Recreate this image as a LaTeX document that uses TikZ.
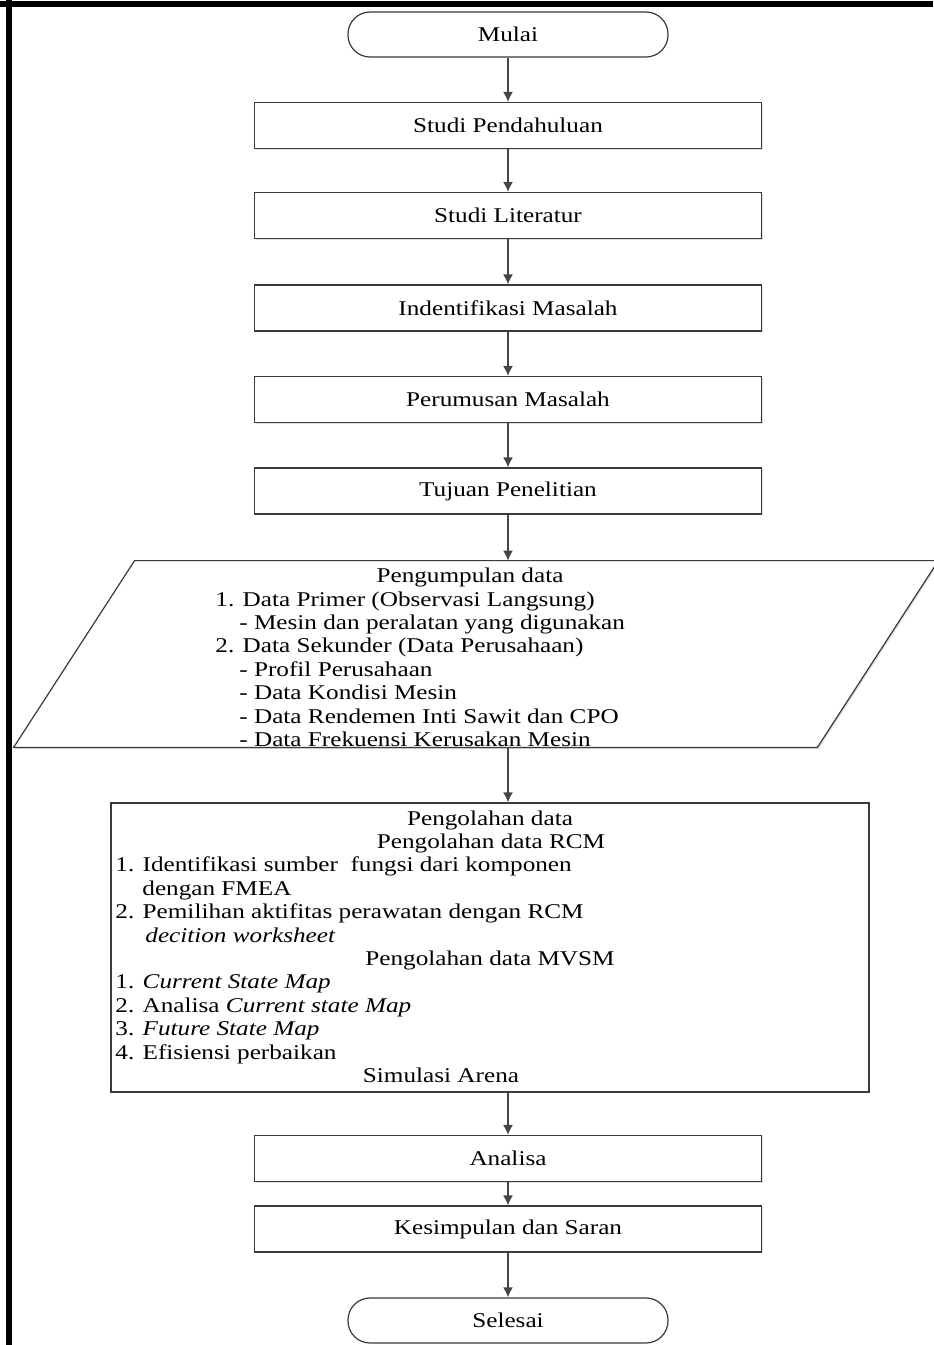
\documentclass[tikz,border=0pt]{standalone}
\usepackage{fontspec}
\setmainfont{Liberation Serif}[FakeStretch=1.2]
\usetikzlibrary{arrows.meta,shadows,calc}
\definecolor{linegray}{HTML}{3A3A3A}
\definecolor{arrowgray}{HTML}{454545}
\tikzset{
  boxshadow/.style={drop shadow={shadow xshift=0.7pt, shadow yshift=-0.7pt, opacity=0.25}},
  stepbox/.style={draw=linegray, line width=0.6pt, fill=white, boxshadow,
    minimum width=253.5pt, minimum height=23pt},
  terminal/.style={draw=linegray, line width=0.6pt, fill=white, rounded corners=11pt,
    minimum width=160pt, minimum height=22.5pt},
  flow/.style={draw=arrowgray, line width=0.8pt, -{Latex[length=5pt,width=5pt]}},
  textline/.style={inner sep=0pt},
}

\begin{document}
\begin{tikzpicture}[x=0.5pt, y=-0.5pt, font=\fontsize{10.5}{12.6}\selectfont]
        \useasboundingbox (0,0) rectangle (933,1345);
        %frame
        \fill (6,0) rectangle (12,1345);
        \fill (0,1) rectangle (933,7);
        %nodes
        \node[terminal] (mulai) at (508,34.5) {Mulai};
        \node[stepbox] (pendahuluan) at (508,125.5) {Studi Pendahuluan};
        \node[stepbox] (literatur) at (508,215.5) {Studi Literatur};
        \node[stepbox] (identifikasi) at (508,308) {Indentifikasi Masalah};
        \node[stepbox] (perumusan) at (508,399.5) {Perumusan Masalah};
        \node[stepbox] (tujuan) at (508,491) {Tujuan Penelitian};
        \node[inner sep=0pt, minimum width=462pt, minimum height=93pt] (data) at (476,654) {};
        \draw[draw=linegray, line width=0.6pt, fill=white, boxshadow]
          ($(data.north west)+(121,0)$) -- (data.north east)
          -- ($(data.south east)+(-121,0)$) -- (data.south west) -- cycle;
        \node[stepbox, minimum width=379pt, minimum height=144.5pt] (olah) at (490,947.5) {};
        \node[stepbox] (analisa) at (508,1158.5) {Analisa};
        \node[stepbox] (kesimpulan) at (508,1229) {Kesimpulan dan Saran};
        \node[terminal] (selesai) at (508,1320.5) {Selesai};
        %texts
        \foreach \x/\a/\txt [count=\i from 0] in {
            470/base/Pengumpulan data,
            215/base west/1. Data Primer (Observasi Langsung),
            239/base west/- Mesin dan peralatan yang digunakan,
            215/base west/2. Data Sekunder (Data Perusahaan),
            239/base west/- Profil Perusahaan,
            239/base west/- Data Kondisi Mesin,
            239/base west/- Data Rendemen Inti Sawit dan CPO,
            239/base west/- Data Frekuensi Kerusakan Mesin}
          \node[textline, anchor=\a] (kumpul\i) at (\x,582.6+23.4*\i) {\txt};
        \foreach \x/\a/\txt [count=\i from 0] in {
            490/base/Pengolahan data,
            491/base/Pengolahan data RCM,
            115/base west/1. Identifikasi sumber\ \ fungsi dari komponen,
            142/base west/dengan FMEA,
            115/base west/2. Pemilihan aktifitas perawatan dengan RCM,
            145/base west/{\itshape decition worksheet},
            490/base/Pengolahan data MVSM,
            115/base west/{1. \textit{Current State Map}},
            115/base west/{2. Analisa \textit{Current state Map}},
            115/base west/{3. \textit{Future State Map}},
            115/base west/4. Efisiensi perbaikan,
            441/base/Simulasi Arena}
          \node[textline, anchor=\a] (olah\i) at (\x,825+23.4*\i) {\txt};
        %edges
        \draw[flow] (mulai) -- (pendahuluan);
        \draw[flow] (pendahuluan) -- (literatur);
        \draw[flow] (literatur) -- (identifikasi);
        \draw[flow] (identifikasi) -- (perumusan);
        \draw[flow] (perumusan) -- (tujuan);
        \draw[flow] (tujuan) -- (tujuan |- data.north);
        \draw[flow] (tujuan |- data.south) -- (tujuan |- olah.north);
        \draw[flow] (olah.south -| analisa) -- (analisa);
        \draw[flow] (analisa) -- (kesimpulan);
        \draw[flow] (kesimpulan) -- (selesai);
\end{tikzpicture}
\end{document}
